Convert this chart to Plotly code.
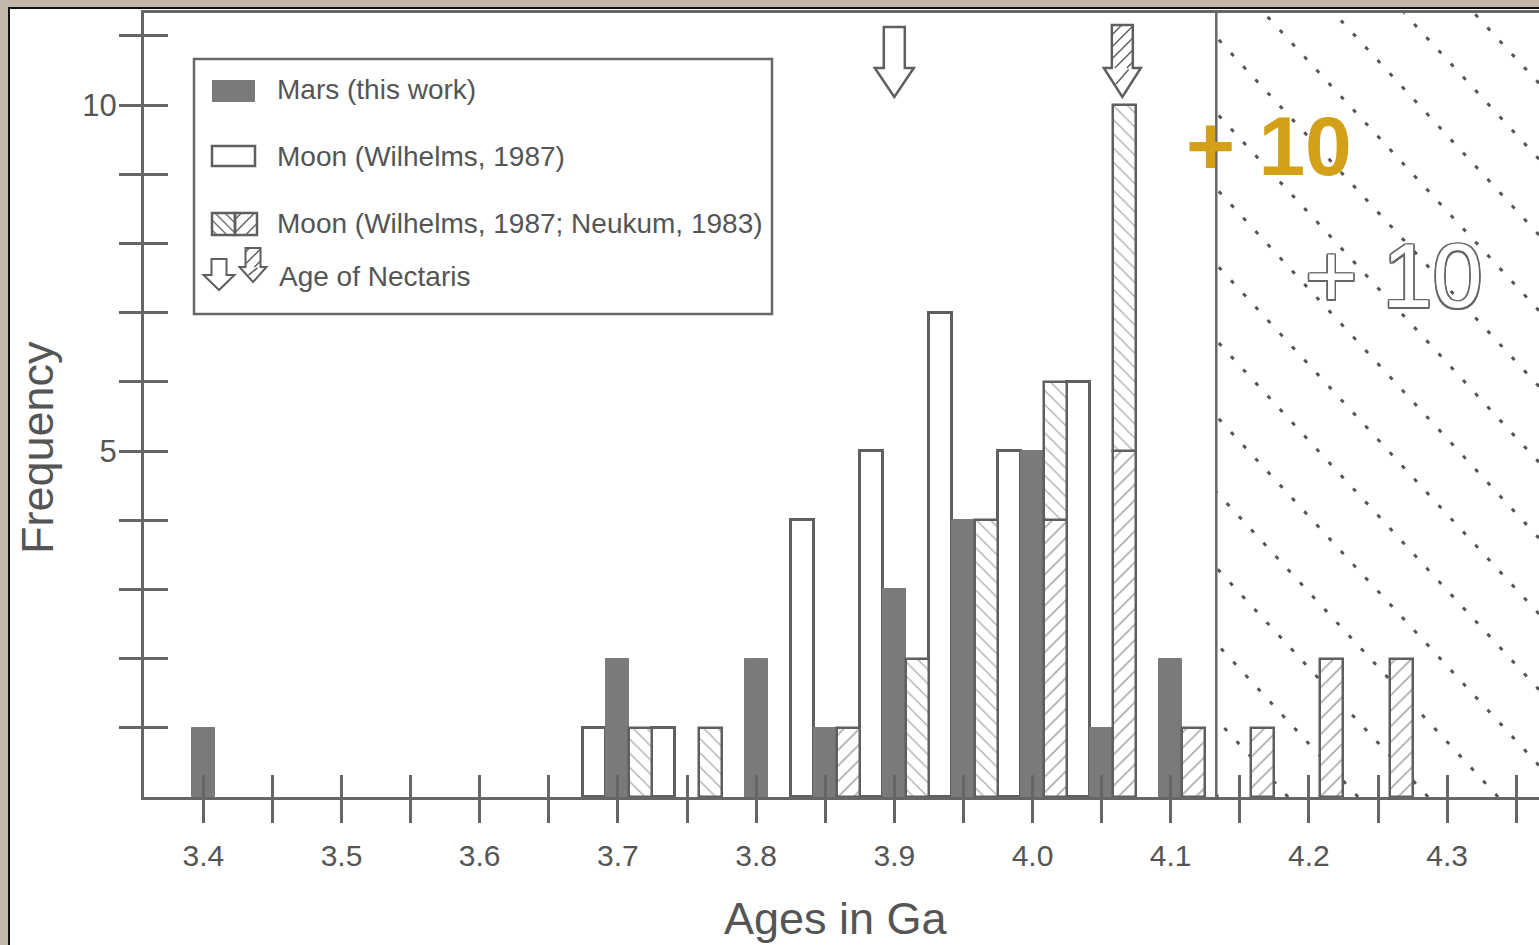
import numpy as np
import plotly.graph_objects as go

W, H = 1539, 945
ML, MR, MT, MB = 144, 0, 13, 148

# ---- data ----
ages = [3.40, 3.45, 3.50, 3.55, 3.60, 3.65, 3.70, 3.75, 3.80, 3.85,
        3.90, 3.95, 4.00, 4.05, 4.10, 4.15, 4.20, 4.25]
mars =          [1, 0, 0, 0, 0, 0, 2, 0, 2, 1, 3, 4, 5, 1, 2, 0, 0, 0]
moon_wilhelms = [0, 0, 0, 0, 0, 0, 1, 1, 0, 4, 5, 7, 5, 6, 0, 0, 0, 0]
moon_hatch_fwd = [0, 0, 0, 0, 0, 0, 0, 0, 0, 1, 0, 0, 4, 5, 1, 1, 2, 2]   # "/" hatch
moon_hatch_back = [0, 0, 0, 0, 0, 0, 1, 1, 0, 0, 2, 4, 2, 5, 0, 0, 0, 0]  # "\" hatch, stacked on "/"
nectaris_ages = [3.90, 4.065]   # white arrow, hatched arrow
cutoff_age = 4.133

x_ticks = [3.40, 3.45, 3.50, 3.55, 3.60, 3.65, 3.70, 3.75, 3.80, 3.85,
           3.90, 3.95, 4.00, 4.05, 4.10, 4.15, 4.20, 4.25, 4.30, 4.35]
x_tick_labels = ["3.4", "", "3.5", "", "3.6", "", "3.7", "", "3.8", "",
                 "3.9", "", "4.0", "", "4.1", "", "4.2", "", "4.3", ""]
y_ticks = [1, 2, 3, 4, 5, 6, 7, 8, 9, 10, 11]
y_tick_labels = ["", "", "", "", "5", "", "", "", "", "10", ""]

legend_labels = ["Mars (this work)", "Moon (Wilhelms, 1987)",
                 "Moon (Wilhelms, 1987; Neukum, 1983)", "Age of Nectaris"]

XR = [3.35709, 4.36650]
YR = [0, 11.33]
BW = 0.05 / 3
FONT = "Liberation Sans, Arial, sans-serif"
GREY = "#5f5f5f"
TXT = "#555555"


def fx(p):
    return (p - ML) / (W - ML - MR)


def fy(p):
    return (H - MB - p) / (H - MT - MB)


def nz(vals, base=None):
    xs, ys, bs = [], [], []
    for i, (a, v) in enumerate(zip(ages, vals)):
        if v:
            xs.append(a)
            ys.append(v)
            bs.append(base[i] if base else 0)
    return xs, ys, bs


fig = go.Figure()

x, y, _ = nz(moon_wilhelms)
fig.add_trace(go.Bar(x=x, y=y, width=BW, offset=-1.5 * BW,
                     marker=dict(color="white", line=dict(color=GREY, width=3))))
x, y, _ = nz(mars)
fig.add_trace(go.Bar(x=x, y=y, width=BW, offset=-0.5 * BW,
                     marker=dict(color="#7a7a7a", line=dict(color="#7a7a7a", width=1))))
x, y, _ = nz(moon_hatch_fwd)
fig.add_trace(go.Bar(x=x, y=y, width=BW, offset=0.5 * BW,
                     marker=dict(color="white", line=dict(color=GREY, width=2.5),
                                 pattern=dict(shape="/", fgcolor="#5a5a5a", bgcolor="white",
                                              size=11, solidity=0.16))))
x, y, b = nz(moon_hatch_back, moon_hatch_fwd)
fig.add_trace(go.Bar(x=x, y=y, base=b, width=BW, offset=0.5 * BW,
                     marker=dict(color="white", line=dict(color=GREY, width=2.5),
                                 pattern=dict(shape="\\", fgcolor="#666", bgcolor="white",
                                              size=10, solidity=0.15))))
# cutoff line (also carries the overlay axes used for the inner tick halves)
fig.add_trace(go.Scatter(x=[cutoff_age, cutoff_age], y=YR, mode="lines",
                         line=dict(color="#666", width=2.5), xaxis="x2", yaxis="y2",
                         hoverinfo="skip"))

shapes = []
# photo background + white sheet
shapes.append(dict(type="rect", xref="paper", yref="paper", layer="below",
                   x0=fx(9), x1=fx(W + 10), y0=fy(8), y1=fy(H + 10),
                   fillcolor="white", line=dict(color="#111", width=2)))

# dotted diagonal lines of the "+10" region
slope = 0.04624          # Ga per frequency unit
step = 0.05065
for j in range(-12, 8):
    xb = 4.6408 + step * j
    if xb <= cutoff_age:
        continue
    x0, y0 = xb, 0.0
    if x0 > XR[1]:
        x0, y0 = XR[1], (xb - XR[1]) / slope
    x1, y1 = xb - slope * YR[1], YR[1]
    if x1 < cutoff_age:
        x1, y1 = cutoff_age, (xb - cutoff_age) / slope
    if y0 >= y1:
        continue
    shapes.append(dict(type="line", xref="x", yref="y", x0=x0, y0=y0, x1=x1, y1=y1,
                       layer="below", line=dict(color="#555", width=3, dash="4px,14px")))


def arrow_path(hs, top, hb, hh):
    return (f"M {-hs},{top} L {hs},{top} L {hs},{hb} L {hh},{hb} L 0,0 "
            f"L {-hh},{hb} L {-hs},{hb} Z")


def shaft_hatch(hs, top, hb, gap):
    parts = []
    for c in np.arange(hb - hs + gap / 2, top + hs, gap):
        xa, xb = max(-hs, hb - c), min(hs, top - c)
        if xb > xa:
            parts.append(f"M {xa:.1f},{xa + c:.1f} L {xb:.1f},{xb + c:.1f}")
    # one stroke in the head
    parts.append(f"M {-hs * 0.6:.1f},{hb * 0.45:.1f} L {hs * 0.6:.1f},{hb * 0.95:.1f}")
    return " ".join(parts)


def arrow(xref, xanchor, yanchor, hs, top, hb, hh, hatched, width):
    out = [dict(type="path", xref=xref, yref="paper", xsizemode="pixel", ysizemode="pixel",
                xanchor=xanchor, yanchor=yanchor, path=arrow_path(hs, top, hb, hh),
                fillcolor="white", line=dict(color=GREY, width=width))]
    if hatched:
        out.append(dict(type="path", xref=xref, yref="paper", xsizemode="pixel",
                        ysizemode="pixel", xanchor=xanchor, yanchor=yanchor,
                        path=shaft_hatch(hs, top, hb, 12), line=dict(color=GREY, width=1.5)))
    return out


shapes += arrow("x", nectaris_ages[0], fy(97), 10.5, 70, 29, 19.5, False, 2.5)
shapes += arrow("x", nectaris_ages[1], fy(97), 10.5, 72, 29, 18.5, True, 2.5)

# legend box
shapes.append(dict(type="rect", xref="paper", yref="paper", x0=fx(194), x1=fx(772),
                   y0=fy(59), y1=fy(314), fillcolor="white", line=dict(color="#666", width=2.5)))
shapes.append(dict(type="rect", xref="paper", yref="paper", x0=fx(212), x1=fx(255),
                   y0=fy(80), y1=fy(102), fillcolor="#7a7a7a", line=dict(width=0)))
shapes.append(dict(type="rect", xref="paper", yref="paper", x0=fx(212), x1=fx(255),
                   y0=fy(146), y1=fy(166), fillcolor="white", line=dict(color=GREY, width=2.5)))


def hatch_box(x0, x1, y0, y1, gap, kind):
    parts = []
    if kind == "\\":
        for c in np.arange(x0 - y1 + gap / 2, x1 - y0, gap):
            xa, xb = max(x0, y0 + c), min(x1, y1 + c)
            if xb > xa:
                parts.append(f"M {fx(xa):.5f},{fy(xa - c):.5f} L {fx(xb):.5f},{fy(xb - c):.5f}")
    else:
        for c in np.arange(x0 + y0 + gap / 2, x1 + y1, gap):
            xa, xb = max(x0, c - y1), min(x1, c - y0)
            if xb > xa:
                parts.append(f"M {fx(xa):.5f},{fy(c - xa):.5f} L {fx(xb):.5f},{fy(c - xb):.5f}")
    return " ".join(parts)


shapes.append(dict(type="path", xref="paper", yref="paper",
                   path=hatch_box(212, 235, 213, 235, 10, "\\"), line=dict(color="#777", width=1.5)))
shapes.append(dict(type="path", xref="paper", yref="paper",
                   path=hatch_box(235, 257, 213, 235, 13, "/"), line=dict(color="#666", width=1.5)))
shapes.append(dict(type="rect", xref="paper", yref="paper", x0=fx(212), x1=fx(235),
                   y0=fy(213), y1=fy(235), line=dict(color=GREY, width=2.5)))
shapes.append(dict(type="rect", xref="paper", yref="paper", x0=fx(235), x1=fx(257),
                   y0=fy(213), y1=fy(235), line=dict(color=GREY, width=2.5)))
shapes += arrow("paper", fx(219), fy(290), 7.5, 31, 15, 15.5, False, 2)
shapes += arrow("paper", fx(253), fy(282), 7.5, 34, 15, 13.5, True, 2)

annotations = []
for lab, yc, xl in zip(legend_labels, [89, 156, 224, 276], [275, 275, 275, 277]):
    annotations.append(dict(text=lab, xref="paper", yref="paper", x=fx(xl), y=fy(yc),
                            xanchor="left", yanchor="middle", showarrow=False,
                            font=dict(size=28, color=TXT, family=FONT)))

annotations.append(dict(text="<b>+ 10</b>", xref="x", yref="y", x=4.171, y=9.41,
                        xanchor="center", yanchor="middle",
                        showarrow=False, font=dict(size=84, color="#D4A017", family=FONT)))
outline = ", ".join(f"{dx}px {dy}px 0 #666" for dx in (-1.5, 0, 1.5) for dy in (-1.5, 0, 1.5)
                    if dx or dy)
annotations.append(dict(text="+ 10", xref="x", yref="y", x=4.2616, y=7.53,
                        xanchor="center", yanchor="middle",
                        showarrow=False, font=dict(size=90, color="white", family=FONT,
                                                   shadow=outline)))
annotations.append(dict(text="Ages in Ga", xref="paper", yref="paper", x=fx(836), y=fy(918),
                        xanchor="center", yanchor="middle",
                        showarrow=False, font=dict(size=45, color=TXT, family=FONT)))
annotations.append(dict(text="Frequency", xref="paper", yref="paper", x=fx(37), y=fy(448),
                        xanchor="center", yanchor="middle", textangle=-90,
                        showarrow=False, font=dict(size=45, color=TXT, family=FONT)))

axis_common = dict(showgrid=False, zeroline=False, tickcolor="#666", tickwidth=3)
fig.update_layout(
    width=W, height=H,
    margin=dict(l=ML, r=MR, t=MT, b=MB, pad=0),
    paper_bgcolor="#c3b7a9", plot_bgcolor="white",
    barmode="overlay", bargap=0, showlegend=False,
    font=dict(family=FONT, color=TXT),
    xaxis=dict(range=XR, tickvals=x_ticks, ticktext=x_tick_labels, ticks="outside",
               ticklen=23, showline=True, linecolor="#666", linewidth=3, mirror=True,
               tickfont=dict(size=30, color=TXT), ticklabelstandoff=7, **axis_common),
    xaxis2=dict(range=XR, overlaying="x", anchor="y", side="bottom", tickvals=x_ticks,
                ticks="inside", ticklen=22, showticklabels=False, showline=False, **axis_common),
    yaxis=dict(range=YR, tickvals=y_ticks, ticktext=y_tick_labels, ticks="outside",
               ticklen=22, showline=True, linecolor="#666", linewidth=3,
               tickfont=dict(size=31, color=TXT), ticklabelstandoff=-4, **axis_common),
    yaxis2=dict(range=YR, overlaying="y", anchor="x", side="left", tickvals=y_ticks,
                ticks="inside", ticklen=24, showticklabels=False, showline=False, **axis_common),
    shapes=shapes, annotations=annotations,
)

fig.write_html("out.html", config={"displayModeBar": False},
               post_script="document.body.style.margin='0px';"
                           "document.body.style.overflow='hidden';")
